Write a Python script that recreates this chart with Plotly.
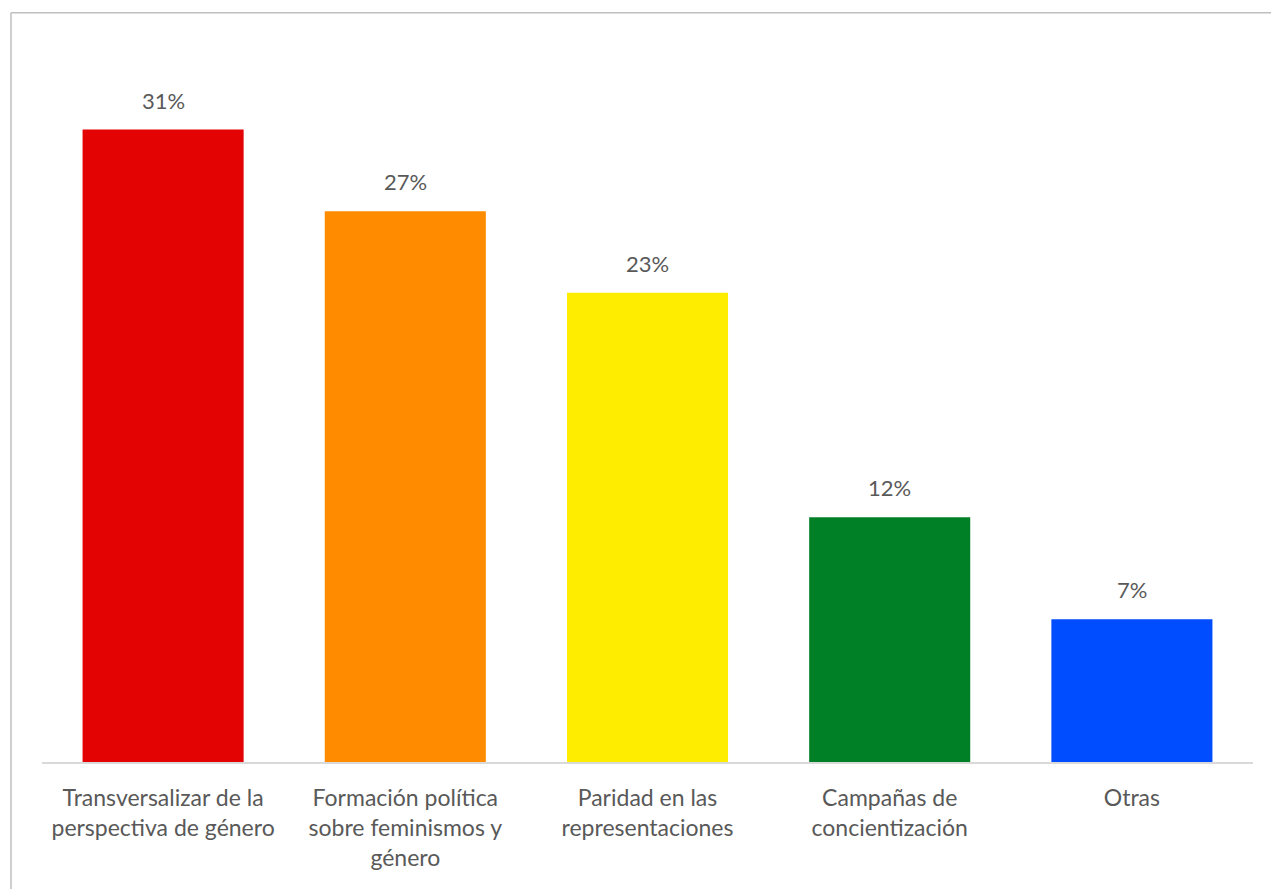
import plotly.graph_objects as go

# Categories and values (percent)
categories = [
    "Transversalizar de la<br>perspectiva de género",
    "Formación política<br>sobre feminismos y<br>género",
    "Paridad en las<br>representaciones",
    "Campañas de<br>concientización",
    "Otras",
]
values = [31, 27, 23, 12, 7]
bar_colors = ["#E40303", "#FF8C00", "#FFED00", "#008026", "#004DFF"]

TEXT = "#595959"
FONT = "Lato"

fig = go.Figure()
fig.add_trace(go.Bar(
    x=categories,
    y=values,
    marker=dict(color=bar_colors, line=dict(width=0)),
    hoverinfo="skip",
))

# Value labels above each bar
for c, v in zip(categories, values):
    fig.add_annotation(
        x=c, y=v, text=f"{v}%", showarrow=False,
        yanchor="bottom", yshift=14,
        font=dict(family=FONT, size=22, color=TEXT),
    )

# Chart frame lines (top and left)
fig.add_shape(type="line", xref="paper", yref="paper",
              x0=-0.0256, x1=1.05, y0=1.0552, y1=1.0552,
              line=dict(color="#BFBFBF", width=1.5))
fig.add_shape(type="line", xref="paper", yref="paper",
              x0=-0.0256, x1=-0.0256, y0=-0.2, y1=1.0552,
              line=dict(color="#BFBFBF", width=1.5))

fig.update_layout(
    width=1271, height=889,
    margin=dict(l=42, r=18, t=52, b=127),
    paper_bgcolor="white", plot_bgcolor="white",
    bargap=0.335,
    showlegend=False,
    font=dict(family=FONT, color=TEXT),
    xaxis=dict(
        showline=True, linecolor="#D9D9D9", linewidth=1.5,
        ticks="", showgrid=False, ticklabelstandoff=15,
        tickfont=dict(family=FONT, size=23, color=TEXT),
        fixedrange=True,
    ),
    yaxis=dict(
        range=[0, 34.8], visible=False, showgrid=False, fixedrange=True,
    ),
)

fig.write_html("out.html")
